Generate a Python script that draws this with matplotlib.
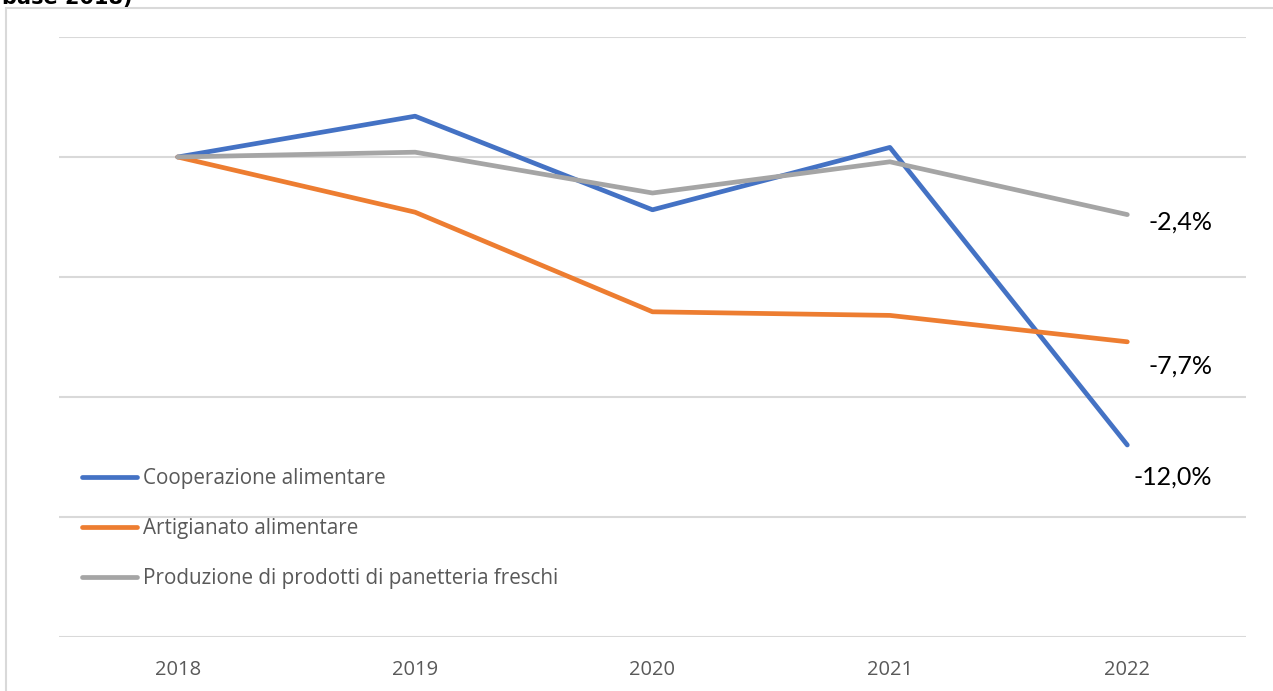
import matplotlib.pyplot as plt
from matplotlib.patches import Rectangle

years = ["2018", "2019", "2020", "2021", "2022"]
cooperazione = [0.0, 1.7, -2.2, 0.4, -12.0]
artigianato = [0.0, -2.3, -6.45, -6.6, -7.7]
panetteria = [0.0, 0.2, -1.5, -0.2, -2.4]
end_labels = ["-12,0%", "-7,7%", "-2,4%"]

series = [
    ("Cooperazione alimentare", cooperazione, "#4472C4"),
    ("Artigianato alimentare", artigianato, "#ED7D31"),
    ("Produzione di prodotti di panetteria freschi", panetteria, "#A5A5A5"),
]

W, H = 1273, 691
fig = plt.figure(figsize=(W / 100, H / 100), dpi=100)

# chart frame (extends past the right/bottom edge of the image)
fig.patches.append(Rectangle((6 / W, -0.1), 1.2, 1 - 8 / H + 0.1,
                             transform=fig.transFigure, fill=False,
                             edgecolor="#d9d9d9", linewidth=1.5))
fig.text(2 / W, 1 - 4 / H, "base 2018)", fontsize=15, fontweight="bold",
         va="baseline", ha="left", family="DejaVu Sans")

ax = fig.add_axes([59 / W, (H - 637) / H, 1187 / W, 600 / H])
x = list(range(len(years)))
for name, vals, col in series:
    ax.plot(x, vals, color=col, linewidth=3.4, label=name,
            solid_capstyle="round", solid_joinstyle="round")

ax.set_xlim(-0.5, len(years) - 0.5)
ax.set_ylim(-20, 5)
ax.set_yticks([5, 0, -5, -10, -15, -20])
ax.yaxis.grid(True, color="#d9d9d9", linewidth=1.5)
ax.set_axisbelow(True)
ax.tick_params(axis="y", left=False, labelleft=False)
ax.tick_params(axis="x", bottom=False, colors="#595959", labelsize=14.5, pad=13)
ax.set_xticks(x)
ax.set_xticklabels(years, family="Open Sans")
for s in ax.spines.values():
    s.set_visible(False)

# value labels at the last year
offsets = [-1.33, -1.01, -0.31]
for (name, vals, col), lab, dy in zip(series, end_labels, offsets):
    ax.text(len(years) - 1 + 0.357, vals[-1] + dy, lab, ha="right", va="center",
            fontsize=18, color="black", family="Lato")

leg = ax.legend(loc="upper left", bbox_to_anchor=(0.004, 0.312), frameon=False,
                handlelength=2.64, handletextpad=0.29, labelspacing=1.4,
                prop={"family": "Open Sans", "size": 14.9})
for t in leg.get_texts():
    t.set_color("#595959")

fig.savefig("out.png", dpi=100)
